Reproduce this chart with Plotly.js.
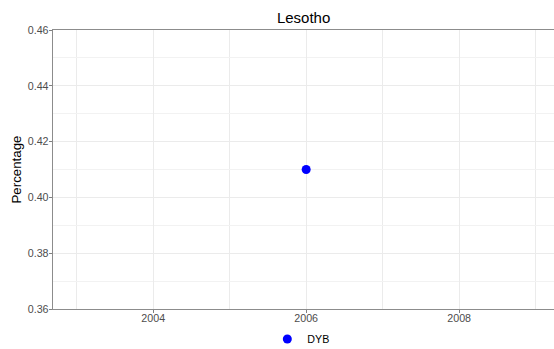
<!DOCTYPE html>
<html>
<head>
<meta charset="utf-8">
<script src="https://cdn.plot.ly/plotly-3.0.1.min.js"></script>
<style>html,body{margin:0;padding:0;background:#fff;}#chart{width:554px;height:349px;}</style>
</head>
<body>
<div id="chart"></div>
<script>
var years = [2006];
var values = [0.41];
var seriesName = "DYB";
var chartTitle = "Lesotho";
var yTitle = "Percentage";
var xTickVals = [2004, 2006, 2008];
var xTickText = ["2004", "2006", "2008"];
var yTickVals = [0.36, 0.38, 0.40, 0.42, 0.44, 0.46];
var yTickText = ["0.36", "0.38", "0.40", "0.42", "0.44", "0.46"];

var trace = {
  x: years, y: values, name: seriesName,
  type: "scatter", mode: "markers",
  marker: {color: "#0000ff", size: 9},
  showlegend: true
};

var layout = {
  width: 554, height: 349,
  margin: {l: 53, r: 0, t: 30, b: 40},
  paper_bgcolor: "#fff", plot_bgcolor: "#fff",
  font: {family: "Liberation Sans, Arial, sans-serif"},
  title: {text: chartTitle, x: 0.548, xref: "container", xanchor: "center", y: 0.948, yref: "container", yanchor: "middle",
          font: {size: 15, color: "#000"}},
  xaxis: {
    range: [2002.69, 2009.24],
    tickvals: xTickVals, ticktext: xTickText,
    ticks: "outside", ticklen: 3, tickcolor: "#7f7f7f",
    ticklabelstandoff: -4,
    tickfont: {size: 10.7, color: "#4d4d4d"},
    showgrid: true, gridcolor: "#ebebeb", gridwidth: 1,
    minor: {dtick: 1, showgrid: true, gridcolor: "#ebebeb", gridwidth: 1},
    showline: true, linecolor: "#8c8c8c", linewidth: 1.3, mirror: true,
    zeroline: false
  },
  yaxis: {
    range: [0.36, 0.46],
    tickvals: yTickVals, ticktext: yTickText,
    ticks: "outside", ticklen: 3, tickcolor: "#7f7f7f",
    ticklabelstandoff: -2,
    tickfont: {size: 10.7, color: "#4d4d4d"},
    showgrid: true, gridcolor: "#ebebeb", gridwidth: 1,
    minor: {dtick: 0.01, showgrid: true, gridcolor: "#f2f2f2", gridwidth: 1},
    showline: true, linecolor: "#8c8c8c", linewidth: 1.3,
    zeroline: false,
    title: {text: yTitle, font: {size: 13.3, color: "#000"}, standoff: 3}
  },
  legend: {orientation: "h", x: 0.543, xref: "container", xanchor: "center", y: 0.0287, yref: "container", yanchor: "middle",
           bgcolor: "rgba(0,0,0,0)", font: {size: 10.7, color: "#000"}}
};

Plotly.newPlot("chart", [trace], layout, {displayModeBar: false, staticPlot: true});
</script>
</body>
</html>
